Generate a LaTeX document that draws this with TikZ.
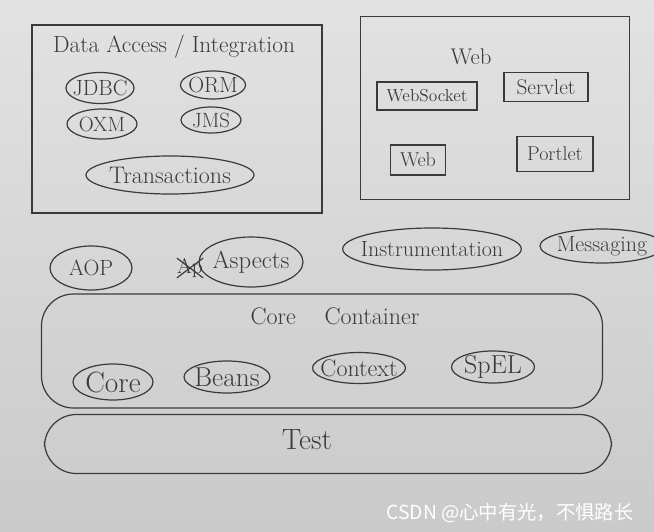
\documentclass[tikz,border=0pt]{standalone}
\usepackage{fontspec}
\newfontfamily\cjk{Noto Sans CJK SC}
\usetikzlibrary{shapes.geometric}
\definecolor{ink}{HTML}{3A3A3A}
\definecolor{papertop}{HTML}{E2E2E2}
\definecolor{paperbot}{HTML}{CACACA}
\begin{document}
\begin{tikzpicture}[x=0.75pt,y=-0.75pt,
  inkline/.style={draw=ink, line width=0.9pt},
  sz/.style 2 args={minimum width=#1*0.75pt, minimum height=#2*0.75pt},
  fs/.style={font=\fontsize{#1}{#1}\selectfont},
  oval/.style={ellipse, inkline, inner sep=-6pt, text=ink},
  tag/.style={rectangle, inkline, inner sep=1pt, text=ink},
  box/.style={rectangle, inkline},
  lbl/.style={text=ink, inner sep=0pt},
]
\useasboundingbox (0,0) rectangle (654,532);
\fill[top color=papertop, bottom color=paperbot] (0,0) rectangle (654,532);
\clip (0,0) rectangle (654,532);

% Data Access / Integration
\node[box, sz={290}{188}] (data) at (177,119) {};
\node[lbl, fs=17.5] (datatitle) at (174,47) {Data Access / Integration};
\node[oval, sz={68}{31}, fs=16.5] (jdbc) at (100,88) {JDBC};
\node[oval, sz={65}{28}, fs=16.5] (orm) at (213,85) {ORM};
\node[oval, sz={70}{30}, fs=15.5] (oxm) at (102,124) {OXM};
\node[oval, sz={60}{26}, fs=15.5] (jms) at (211,120) {JMS};
\node[oval, sz={168}{38}, fs=18] (tx) at (170,175) {Transactions};

% Web
\node[box, sz={269}{183}] (web) at (495,108) {};
\node[lbl, fs=17] (webtitle) at (471,57) {Web};
\node[tag, sz={100}{28}, fs=13] (ws) at (427,96) {WebSocket};
\node[tag, sz={84}{29}, fs=16] (servlet) at (546,87) {Servlet};
\node[tag, sz={55}{30}, fs=15] (webm) at (418,160) {Web};
\node[tag, sz={76}{35}, fs=15] (portlet) at (555,154) {Portlet};

% middle row
\node[oval, sz={82}{44}, fs=16.5] (aop) at (91,268) {AOP};
\node[lbl, fs=16] (ap) at (190,268) {Ap};
\node[oval, sz={104}{50}, fs=18.5] (aspects) at (251,262) {Aspects};
\draw[inkline] (ap.south west) -- (ap.north east);
\draw[inkline] (ap.north west) -- (ap.south east);
\node[oval, sz={176}{42}, fs=16.5] (instr) at (432,249) {Instrumentation};
\node[oval, sz={124}{34}, fs=16.5] (msg) at (602,246) {Messaging};

% Core Container
\node[box, rounded corners=24pt, sz={561}{114}] (cc) at (322,351) {};
\node[lbl, fs=18] (cctitle) at (335,316) {Core\hspace{1.2em}Container};
\node[oval, sz={80}{36}, fs=22] (core) at (113,382) {Core};
\node[oval, sz={86}{32}, fs=20.5] (beans) at (227,377) {Beans};
\node[oval, sz={93}{31}, fs=18] (context) at (359,368) {Context};
\node[oval, sz={83}{32}, fs=19.5] (spel) at (493,367) {SpEL};

% Test
\node[box, rounded corners=24pt, sz={567}{59}] (test) at (328,444) {};
\node[lbl, fs=22] (testtitle) at (307,440) {Test};

% watermark
\node[text=white, inner sep=0pt, font=\cjk\fontsize{14.5}{14.5}\selectfont] (wm) at (510,513) {CSDN @心中有光，不惧路长};
\end{tikzpicture}
\end{document}
